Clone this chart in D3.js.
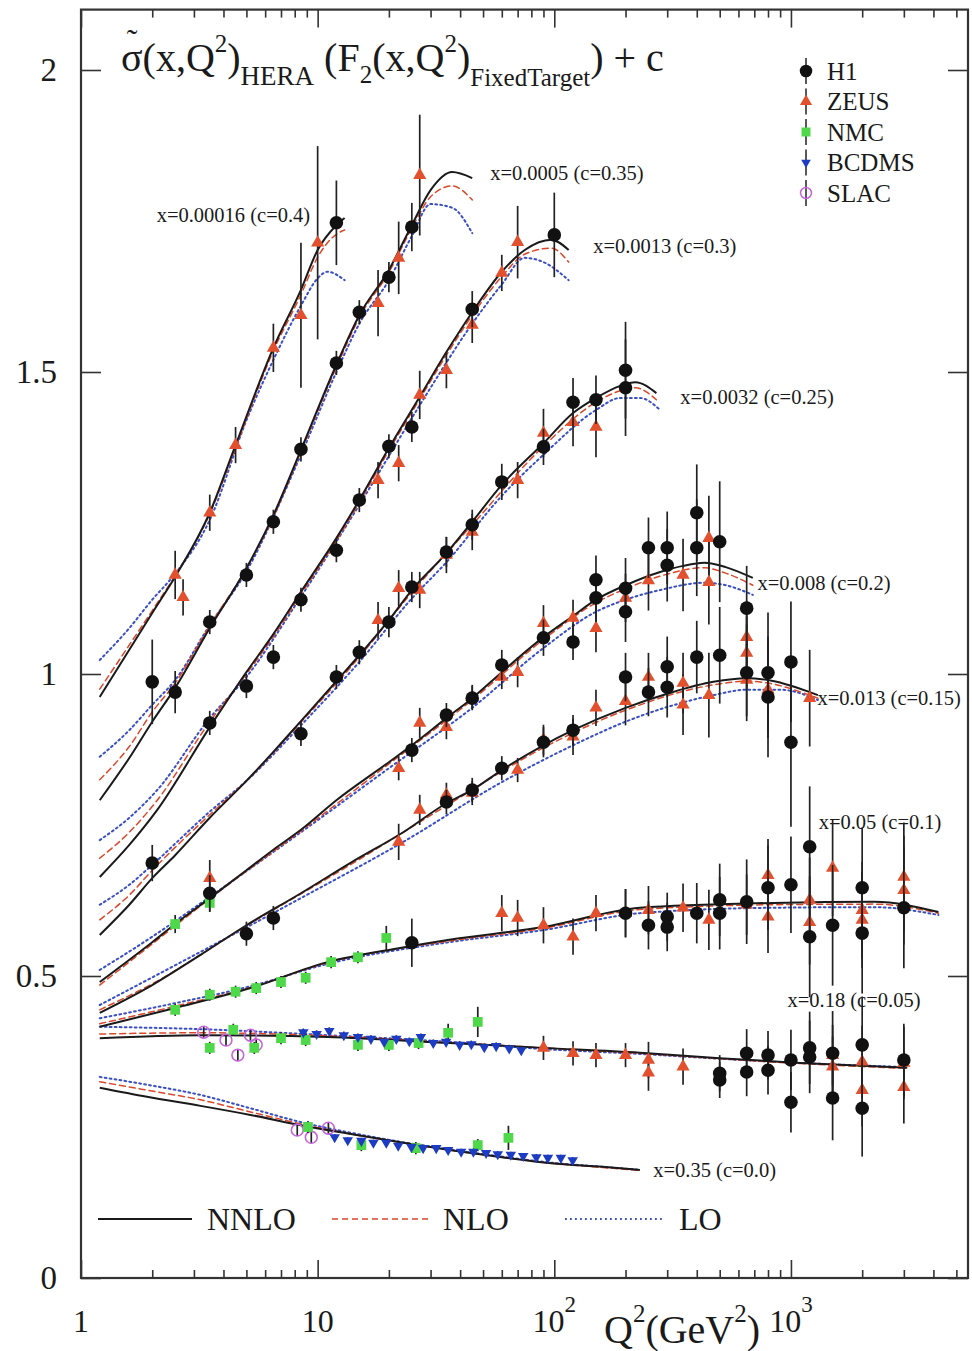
<!DOCTYPE html>
<html>
<head>
<meta charset="utf-8">
<script src="https://cdn.jsdelivr.net/npm/d3@7"></script>
<style>
  body { margin: 0; background: #fff; }
  text { font-family: "Liberation Serif", "Times New Roman", serif; fill: #1a1a1a; }
</style>
</head>
<body>
<svg id="chart" width="972" height="1351"></svg>
<script>
// ---- data: [Q2, value, error] ----
var h1Data = [
  // x=0.00016
  [12,1.747,0.07],
  // x=0.0005
  [2,0.987,0.07],[2.5,0.970,0.035],[3.5,1.086,0.02],[5,1.164,0.02],[6.5,1.252,0.02],[8.5,1.372,0.02],[12,1.515,0.02],[15,1.599,0.02],[20,1.657,0.025],[25,1.740,0.04],
  // x=0.0013
  [3.5,0.919,0.02],[5,0.980,0.02],[6.5,1.028,0.02],[8.5,1.123,0.02],[12,1.205,0.02],[15,1.288,0.02],[20,1.377,0.02],[25,1.409,0.025],[45,1.604,0.03],[100,1.727,0.07],
  // x=0.0032
  [2,0.687,0.03],[8.5,0.901,0.02],[12,0.995,0.02],[15,1.036,0.02],[20,1.086,0.025],[25,1.144,0.025],[35,1.202,0.025],[45,1.247,0.025],[60,1.318,0.03],[90,1.376,0.03],[120,1.450,0.04],[150,1.454,0.04],[200,1.503,0.08],[200,1.474,0.08],
  // x=0.008
  [3.5,0.637,0.03],[25,0.874,0.02],[35,0.932,0.02],[45,0.960,0.02],[60,1.015,0.025],[90,1.060,0.03],[120,1.053,0.03],[150,1.126,0.04],[150,1.156,0.04],[200,1.142,0.05],[200,1.103,0.05],[250,1.209,0.05],[300,1.209,0.06],[300,1.180,0.06],[400,1.267,0.08],[400,1.209,0.08],[500,1.219,0.1],[650,1.109,0.07],
  // x=0.013
  [5,0.570,0.02],[6.5,0.596,0.02],[35,0.788,0.02],[45,0.808,0.02],[60,0.844,0.02],[90,0.887,0.025],[120,0.907,0.025],[200,0.995,0.04],[250,0.970,0.04],[300,1.012,0.05],[300,0.978,0.05],[400,1.028,0.06],[500,1.031,0.08],[650,1.002,0.08],[800,1.002,0.1],[800,0.962,0.1],[1000,1.020,0.1],[1000,0.887,0.14],
  // x=0.05
  [25,0.555,0.04],[200,0.604,0.04],[250,0.584,0.04],[300,0.598,0.04],[300,0.581,0.04],[400,0.604,0.05],[500,0.626,0.06],[500,0.604,0.06],[650,0.623,0.07],[800,0.646,0.07],[1000,0.651,0.08],[1200,0.714,0.1],[1200,0.565,0.1],[1500,0.584,0.1],[2000,0.646,0.1],[2000,0.571,0.1],[3000,0.613,0.1],
  // x=0.18
  [500,0.339,0.03],[500,0.328,0.03],[650,0.372,0.04],[650,0.341,0.04],[800,0.369,0.04],[800,0.344,0.04],[1000,0.361,0.05],[1000,0.291,0.05],[1200,0.381,0.06],[1200,0.366,0.06],[1500,0.372,0.07],[1500,0.298,0.07],[2000,0.386,0.08],[2000,0.281,0.08],[3000,0.361,0.06]
];

var zeusData = [
  // x=0.00016
  [2.5,1.164,0.04],[2.7,1.127,0.03],[3.5,1.267,0.03],[4.5,1.379,0.03],[6.5,1.540,0.04],[8.5,1.594,0.12],[10,1.714,0.16],
  // x=0.0005
  [18,1.614,0.055],[22,1.689,0.06],[27,1.826,0.1],
  // x=0.0013
  [18,1.321,0.03],[22,1.349,0.03],[27,1.462,0.04],[35,1.503,0.03],[45,1.578,0.03],[60,1.664,0.03],[70,1.715,0.06],
  // x=0.0032
  [18,1.089,0.03],[22,1.142,0.03],[27,1.139,0.03],[35,1.197,0.03],[45,1.235,0.03],[70,1.321,0.03],[90,1.399,0.04],[120,1.417,0.04],[150,1.409,0.05],
  // x=0.008
  [3.5,0.662,0.03],[22,0.844,0.02],[27,0.919,0.025],[35,0.912,0.02],[45,0.962,0.02],[60,0.995,0.02],[70,1.003,0.025],[90,1.084,0.03],[120,1.093,0.03],[150,1.076,0.04],[200,1.126,0.04],[250,1.155,0.05],[350,1.164,0.06],[450,1.225,0.07],[450,1.152,0.07],
  // x=0.013
  [22,0.722,0.03],[27,0.775,0.025],[35,0.800,0.02],[45,0.803,0.02],[70,0.841,0.02],[90,0.891,0.025],[120,0.896,0.03],[150,0.944,0.03],[200,0.955,0.04],[250,0.995,0.04],[350,0.985,0.05],[350,0.949,0.05],[450,0.965,0.07],[650,1.061,0.06],[650,1.035,0.06],[650,0.990,0.06],[800,0.974,0.08],[1200,0.960,0.08],
  // x=0.05
  [60,0.604,0.03],[70,0.596,0.03],[90,0.584,0.03],[120,0.565,0.03],[150,0.604,0.03],[200,0.604,0.04],[250,0.609,0.04],[350,0.613,0.04],[450,0.593,0.05],[650,0.618,0.05],[800,0.667,0.06],[800,0.598,0.06],[1200,0.626,0.07],[1200,0.589,0.07],[1500,0.679,0.08],[2000,0.609,0.08],[2000,0.593,0.08],[3000,0.664,0.09],[3000,0.642,0.09],
  // x=0.18
  [90,0.381,0.02],[120,0.372,0.02],[150,0.369,0.02],[200,0.369,0.02],[250,0.361,0.03],[250,0.340,0.03],[350,0.350,0.03],[1500,0.369,0.05],[1500,0.350,0.05],[2000,0.358,0.06],[2000,0.311,0.06],[3000,0.356,0.06],[3000,0.316,0.06]
];

var nmcData = [
  // x=0.008
  [2.5,0.586,0.015],[3.5,0.621,0.015],
  // x=0.05
  [2.5,0.444,0.01],[3.5,0.469,0.01],[4.5,0.474,0.01],[5.5,0.480,0.01],[7,0.490,0.01],[8.9,0.497,0.01],[11.4,0.523,0.01],[14.8,0.531,0.01],[19.5,0.563,0.02],
  // x=0.18
  [3.5,0.381,0.01],[4.4,0.411,0.01],[5.4,0.381,0.01],[7,0.397,0.01],[8.9,0.394,0.01],[14.8,0.386,0.01],[20,0.386,0.01],[26.7,0.389,0.01],[35.6,0.406,0.015],[47.5,0.424,0.025],
  // x=0.35
  [9.1,0.250,0.01],[15.3,0.220,0.01],[26,0.215,0.01],[47.5,0.220,0.01],[64,0.232,0.02]
];

var bcdmsData = [
  // x=0.18
  [8.7,0.407,0.006],[9.9,0.404,0.006],[11.2,0.409,0.006],[12.9,0.402,0.006],[14.8,0.399,0.006],[16.8,0.396,0.006],[19.1,0.391,0.006],[21.5,0.396,0.006],[24.4,0.392,0.006],[27.3,0.399,0.006],[30.8,0.389,0.006],[34.9,0.391,0.006],[39.8,0.386,0.006],[44.6,0.387,0.006],[50.6,0.382,0.006],[56.8,0.384,0.006],[64.5,0.380,0.006],[72.5,0.377,0.006],
  // x=0.35
  [11.8,0.233,0.005],[13.4,0.228,0.005],[15.3,0.227,0.005],[17.2,0.224,0.005],[19.5,0.224,0.005],[21.9,0.219,0.005],[24.9,0.217,0.005],[27.9,0.215,0.005],[31.7,0.215,0.005],[35.6,0.212,0.005],[40.4,0.209,0.005],[45.5,0.209,0.005],[51.5,0.207,0.005],[57.7,0.205,0.005],[65.5,0.204,0.005],[73.9,0.202,0.005],[84,0.200,0.005],[94,0.199,0.005],[106.6,0.199,0.005],[119.6,0.195,0.005]
];

var slacData = [
  // x=0.18
  [3.3,0.407,0.01],[4.1,0.394,0.01],[4.6,0.369,0.01],[5.2,0.402,0.01],[5.5,0.386,0.01],
  // x=0.35
  [8.2,0.245,0.01],[9.4,0.233,0.01],[11.1,0.248,0.01]
];

// ---- theory curves, one list of [Q2, value] per x bin ----
var nnloCurves = [
  [[1.2,0.962],[1.6,1.040],[2,1.101],[2.5,1.161],[3.5,1.267],[4.5,1.379],[6.5,1.540],[8.5,1.636],[10,1.702],[12,1.743],[13,1.755]],
  [[1.2,0.791],[1.6,0.861],[2,0.921],[2.5,0.977],[3.5,1.076],[5,1.175],[6.5,1.263],[8.5,1.371],[12,1.512],[15,1.594],[20,1.669],[25,1.743],[30,1.801],[37,1.831],[45,1.821]],
  [[1.2,0.664],[1.6,0.717],[2.1,0.775],[3.5,0.912],[5,1.003],[6.5,1.066],[8.5,1.136],[12,1.225],[15,1.288],[20,1.374],[27,1.459],[35,1.533],[45,1.599],[60,1.666],[75,1.702],[97,1.719],[115,1.702]],
  [[1.2,0.568],[1.6,0.618],[2,0.662],[2.5,0.700],[3.5,0.762],[5,0.823],[6.5,0.871],[8.5,0.922],[12,0.988],[15,1.031],[20,1.089],[25,1.139],[35,1.200],[45,1.252],[60,1.313],[90,1.382],[120,1.432],[150,1.457],[190,1.477],[220,1.483],[270,1.465]],
  [[1.2,0.490],[2,0.556],[2.5,0.586],[3.5,0.629],[5,0.675],[6.5,0.709],[8.5,0.742],[12,0.791],[20,0.854],[25,0.882],[35,0.927],[45,0.960],[60,1.003],[90,1.061],[120,1.096],[150,1.123],[200,1.147],[280,1.169],[350,1.179],[430,1.184],[530,1.177],[690,1.159]],
  [[1.2,0.439],[2,0.485],[3.2,0.535],[5,0.584],[8.5,0.637],[14,0.689],[23,0.738],[35,0.786],[45,0.808],[60,0.841],[90,0.882],[120,0.907],[200,0.944],[310,0.969],[470,0.987],[650,0.993],[800,0.990],[1200,0.970],[1300,0.965]],
  [[1.2,0.416],[2.5,0.447],[5.2,0.480],[11,0.523],[22,0.546],[36,0.560],[90,0.581],[230,0.613],[840,0.621],[2250,0.623],[4200,0.606]],
  [[1.2,0.397],[3.2,0.402],[11,0.399],[36,0.389],[90,0.381],[230,0.373],[500,0.364],[1100,0.356],[3100,0.348]],
  [[1.2,0.315],[1.9,0.300],[3.2,0.285],[5.2,0.270],[8.5,0.253],[14,0.238],[22,0.225],[36,0.212],[60,0.200],[97,0.190],[160,0.184],[230,0.179]]
];

var nloCurves = [
  [[1.2,0.975],[1.6,1.048],[2,1.105],[2.5,1.163],[3.5,1.265],[4.5,1.375],[6.5,1.535],[8.5,1.628],[10,1.690],[12,1.728],[13,1.735]],
  [[1.2,0.825],[1.6,0.880],[2,0.937],[2.5,0.985],[3.5,1.080],[5,1.175],[6.5,1.260],[8.5,1.368],[12,1.508],[15,1.590],[20,1.665],[25,1.738],[30,1.790],[37,1.808],[45,1.785]],
  [[1.2,0.695],[1.6,0.738],[2.1,0.791],[3.5,0.921],[5,1.000],[6.5,1.062],[8.5,1.132],[12,1.221],[15,1.284],[20,1.370],[27,1.455],[35,1.528],[45,1.594],[60,1.658],[75,1.695],[97,1.705],[115,1.682]],
  [[1.2,0.593],[1.6,0.634],[2,0.675],[3.5,0.767],[5,0.823],[8.5,0.920],[15,1.028],[25,1.135],[45,1.247],[90,1.377],[150,1.450],[190,1.469],[220,1.474],[270,1.454]],
  [[1.2,0.485],[2,0.553],[3.5,0.628],[8.5,0.740],[20,0.851],[45,0.957],[90,1.057],[150,1.118],[200,1.141],[280,1.162],[430,1.176],[530,1.167],[690,1.147]],
  [[1.2,0.444],[2,0.487],[5,0.583],[14,0.686],[35,0.782],[90,0.878],[200,0.940],[470,0.982],[650,0.988],[800,0.985],[1200,0.965],[1300,0.960]],
  [[1.2,0.421],[2.5,0.450],[5.2,0.481],[11,0.522],[36,0.558],[90,0.579],[230,0.610],[840,0.618],[2250,0.619],[4200,0.604]],
  [[1.2,0.404],[3.2,0.406],[11,0.401],[36,0.390],[90,0.381],[230,0.372],[500,0.363],[1100,0.355],[3100,0.347]],
  [[1.2,0.325],[1.9,0.311],[3.2,0.295],[5.2,0.275],[8.5,0.255],[14,0.238],[22,0.225],[36,0.212],[60,0.200],[97,0.190],[160,0.183],[230,0.178]]
];

var loCurves = [
  [[1.2,1.023],[1.6,1.076],[2,1.123],[2.5,1.166],[3.5,1.255],[5,1.420],[6.5,1.520],[8.5,1.610],[10,1.655],[11,1.666],[13,1.652]],
  [[1.2,0.863],[1.6,0.907],[2,0.949],[2.5,0.990],[3.5,1.081],[5,1.170],[8.5,1.363],[12,1.500],[15,1.580],[20,1.652],[25,1.725],[30,1.778],[37,1.772],[45,1.730]],
  [[1.2,0.725],[1.6,0.762],[2.1,0.808],[3.5,0.927],[5,0.995],[8.5,1.128],[15,1.280],[27,1.445],[45,1.580],[60,1.645],[75,1.689],[90,1.682],[115,1.652]],
  [[1.2,0.618],[1.6,0.651],[2,0.684],[3.5,0.772],[5,0.823],[8.5,0.915],[15,1.020],[25,1.125],[35,1.185],[60,1.295],[90,1.363],[150,1.437],[190,1.457],[230,1.457],[280,1.437]],
  [[1.2,0.510],[2,0.565],[3.5,0.631],[8.5,0.738],[20,0.844],[45,0.944],[90,1.043],[150,1.103],[200,1.123],[280,1.139],[430,1.151],[530,1.147],[690,1.131]],
  [[1.2,0.452],[3.2,0.540],[8.5,0.629],[23,0.722],[60,0.821],[120,0.882],[200,0.921],[310,0.947],[470,0.965],[650,0.974],[900,0.974],[1300,0.957]],
  [[1.2,0.430],[2.5,0.455],[5.2,0.483],[11,0.520],[36,0.556],[90,0.576],[230,0.604],[840,0.613],[2250,0.614],[4200,0.601]],
  [[1.2,0.416],[3.2,0.412],[11,0.402],[36,0.391],[90,0.379],[230,0.371],[500,0.363],[1100,0.356],[3100,0.349]],
  [[1.2,0.333],[1.9,0.320],[3.2,0.303],[5.2,0.281],[8.5,0.258],[14,0.240],[22,0.226],[36,0.213],[60,0.201],[97,0.191],[160,0.184],[230,0.179]]
];

var binLabels = ["x=0.00016 (c=0.4)", "x=0.0005 (c=0.35)", "x=0.0013 (c=0.3)", "x=0.0032 (c=0.25)",
  "x=0.008 (c=0.2)", "x=0.013 (c=0.15)", "x=0.05 (c=0.1)", "x=0.18 (c=0.05)", "x=0.35 (c=0.0)"];
// where each bin label sits, in data coordinates [Q2, value]
var binLabelAt = [[9.3,1.760],[53.6,1.829],[146,1.709],[341,1.459],[722,1.151],[1295,0.960],[1310,0.755],[967,0.460],[262,0.179]];

var yTicks = [0, 0.5, 1, 1.5, 2];
var xDecades = [1, 10, 100, 1000];
var xTickExp = ["1", "10", "10|2", "10|3"];
var expNames = ["H1", "ZEUS", "NMC", "BCDMS", "SLAC"];
var theoryNames = ["NNLO", "NLO", "LO"];

// ---- layout ----
var svg = d3.select("#chart");
var plotL = 81, plotR = 968, plotT = 9.6, plotB = 1278;

var x = d3.scaleLog().domain([1, 5600]).range([plotL, plotR]);
var y = d3.scaleLinear().domain([0, 2.1]).range([plotB, plotT]);

// axes (ticks point inward)
var minorTicks = [];
xDecades.forEach(function (d) {
  for (var k = 2; k <= 9; k++) { if (k * d < 5600) minorTicks.push(k * d); }
});

function styleAxis(g) {
  g.select(".domain").remove();
  g.selectAll(".tick line").attr("stroke", "#333").attr("stroke-width", 1.6);
}
function noLabel() { return ""; }

svg.append("g").attr("transform", "translate(0," + plotB + ")")
  .call(d3.axisBottom(x).tickValues(xDecades).tickSize(-18).tickFormat(noLabel)).call(styleAxis);
svg.append("g").attr("transform", "translate(0," + plotB + ")")
  .call(d3.axisBottom(x).tickValues(minorTicks).tickSize(-8).tickFormat(noLabel)).call(styleAxis);
svg.append("g").attr("transform", "translate(0," + plotT + ")")
  .call(d3.axisTop(x).tickValues(xDecades).tickSize(-18).tickFormat(noLabel)).call(styleAxis);
svg.append("g").attr("transform", "translate(0," + plotT + ")")
  .call(d3.axisTop(x).tickValues(minorTicks).tickSize(-8).tickFormat(noLabel)).call(styleAxis);

var yAxisG = svg.append("g").attr("transform", "translate(" + plotL + ",0)")
  .call(d3.axisLeft(y).tickValues(yTicks).tickSize(-20).tickPadding(24).tickFormat(function (d) { return String(d); }))
  .call(styleAxis);
yAxisG.selectAll(".tick text").attr("font-size", 33).attr("font-family", "Liberation Serif").attr("fill", "#1a1a1a");
svg.append("g").attr("transform", "translate(" + plotR + ",0)")
  .call(d3.axisRight(y).tickValues(yTicks).tickSize(-20).tickFormat(noLabel)).call(styleAxis);

svg.append("rect").attr("x", plotL).attr("y", plotT).attr("width", plotR - plotL).attr("height", plotB - plotT)
  .attr("fill", "none").attr("stroke", "#333").attr("stroke-width", 2.2);

// x tick labels with exponents
xDecades.forEach(function (d, i) {
  var parts = xTickExp[i].split("|");
  var t = svg.append("text").attr("x", x(d)).attr("y", 1332).attr("text-anchor", "middle").attr("font-size", 32);
  t.append("tspan").text(parts[0]);
  if (parts[1]) t.append("tspan").attr("dy", -20).attr("font-size", 23).text(parts[1]);
});

// x axis title
var xt = svg.append("text").attr("x", 604).attr("y", 1343).attr("font-size", 40);
xt.append("tspan").text("Q");
xt.append("tspan").attr("dy", -21).attr("font-size", 25).text("2");
xt.append("tspan").attr("dy", 21).text("(GeV");
xt.append("tspan").attr("dy", -21).attr("font-size", 25).text("2");
xt.append("tspan").attr("dy", 21).text(")");

// title
var tt = svg.append("text").attr("x", 121).attr("y", 71).attr("font-size", 40);
tt.append("tspan").text("\u03C3(x,Q");
tt.append("tspan").attr("dy", -19).attr("font-size", 25).text("2");
tt.append("tspan").attr("dy", 19).text(")");
tt.append("tspan").attr("dy", 14).attr("font-size", 27).text("HERA");
tt.append("tspan").attr("dy", -14).text(" (F");
tt.append("tspan").attr("dy", 12).attr("font-size", 25).text("2");
tt.append("tspan").attr("dy", -12).text("(x,Q");
tt.append("tspan").attr("dy", -19).attr("font-size", 25).text("2");
tt.append("tspan").attr("dy", 19).text(")");
tt.append("tspan").attr("dy", 15).attr("font-size", 25).text("FixedTarget");
tt.append("tspan").attr("dy", -15).text(") + c");
svg.append("text").attr("x", 132).attr("y", 51).attr("text-anchor", "middle").attr("font-size", 32).text("\u02DC");

// ---- theory curves ----
var line = d3.line()
  .x(function (d) { return x(d[0]); })
  .y(function (d) { return y(d[1]); })
  .curve(d3.curveMonotoneX);

var loStyle = { stroke: "#3b4fc4", width: 2, dash: "1.8,3.2" };
var nloStyle = { stroke: "#d9482b", width: 1.5, dash: "6,4" };
var nnloStyle = { stroke: "#1a1a1a", width: 2, dash: null };

function drawCurves(curves, st) {
  svg.append("g").selectAll("path").data(curves).enter().append("path")
    .attr("d", line)
    .attr("fill", "none")
    .attr("stroke", st.stroke)
    .attr("stroke-width", st.width)
    .attr("stroke-dasharray", st.dash)
    .attr("stroke-linecap", st.dash ? "round" : "butt");
}
drawCurves(loCurves, loStyle);
drawCurves(nloCurves, nloStyle);
drawCurves(nnloCurves, nnloStyle);

// bin labels
svg.append("g").selectAll("text").data(binLabels).enter().append("text")
  .attr("x", function (d, i) { return x(binLabelAt[i][0]); })
  .attr("y", function (d, i) { return y(binLabelAt[i][1]); })
  .attr("dy", "0.33em")
  .attr("text-anchor", function (d, i) { return i === 0 ? "end" : "start"; })
  .attr("font-size", 20.5)
  .attr("fill", "#2a2a2a")
  .text(function (d) { return d; });

// ---- data points ----
var sets = [
  { data: slacData,  type: d3.symbolCircle,   size: 110, fill: "none",    stroke: "#c466d8", rot: 0 },
  { data: nmcData,   type: d3.symbolSquare,   size: 95,  fill: "#4fd84a", stroke: "none",    rot: 0 },
  { data: bcdmsData, type: d3.symbolTriangle, size: 48,  fill: "#1c3cc4", stroke: "none",    rot: 180 },
  { data: zeusData,  type: d3.symbolTriangle, size: 75,  fill: "#e2502e", stroke: "none",    rot: 0 },
  { data: h1Data,    type: d3.symbolCircle,   size: 145, fill: "#111",    stroke: "none",    rot: 0 }
];

sets.forEach(function (s) {
  var g = svg.append("g");
  g.selectAll("line").data(s.data).enter().append("line")
    .attr("x1", function (d) { return x(d[0]); })
    .attr("x2", function (d) { return x(d[0]); })
    .attr("y1", function (d) { return y(d[1] - d[2]); })
    .attr("y2", function (d) { return y(d[1] + d[2]); })
    .attr("stroke", "#222").attr("stroke-width", 1.7);
  g.selectAll("path").data(s.data).enter().append("path")
    .attr("d", d3.symbol().type(s.type).size(s.size))
    .attr("transform", function (d) { return "translate(" + x(d[0]) + "," + y(d[1]) + ") rotate(" + s.rot + ")"; })
    .attr("fill", s.fill)
    .attr("stroke", s.stroke)
    .attr("stroke-width", 1.6);
});

// ---- experiment legend ----
var legendOrder = [4, 3, 1, 2, 0]; // H1, ZEUS, NMC, BCDMS, SLAC -> index in sets
var lg = svg.append("g");
expNames.forEach(function (name, i) {
  var s = sets[legendOrder[i]];
  var cy = 71 + i * 30.5;
  lg.append("line").attr("x1", 806).attr("x2", 806).attr("y1", cy - 13).attr("y2", cy + 13)
    .attr("stroke", "#222").attr("stroke-width", 1.5);
  lg.append("path").attr("d", d3.symbol().type(s.type).size(s.size * 0.85)())
    .attr("transform", "translate(806," + cy + ") rotate(" + s.rot + ")")
    .attr("fill", s.fill).attr("stroke", s.stroke).attr("stroke-width", 1.5);
  lg.append("text").attr("x", 827).attr("y", cy).attr("dy", "0.35em").attr("font-size", 25).text(name);
});

// ---- theory legend ----
var theoryStyles = [nnloStyle, nloStyle, loStyle];
var theoryX = [[98, 192, 207], [332, 430, 443], [565, 665, 679]];
theoryNames.forEach(function (name, i) {
  var st = theoryStyles[i];
  svg.append("line").attr("x1", theoryX[i][0]).attr("x2", theoryX[i][1]).attr("y1", 1219).attr("y2", 1219)
    .attr("stroke", st.stroke).attr("stroke-width", st.width).attr("stroke-dasharray", st.dash);
  svg.append("text").attr("x", theoryX[i][2]).attr("y", 1219).attr("dy", "0.35em").attr("font-size", 32).text(name);
});
</script>
</body>
</html>
